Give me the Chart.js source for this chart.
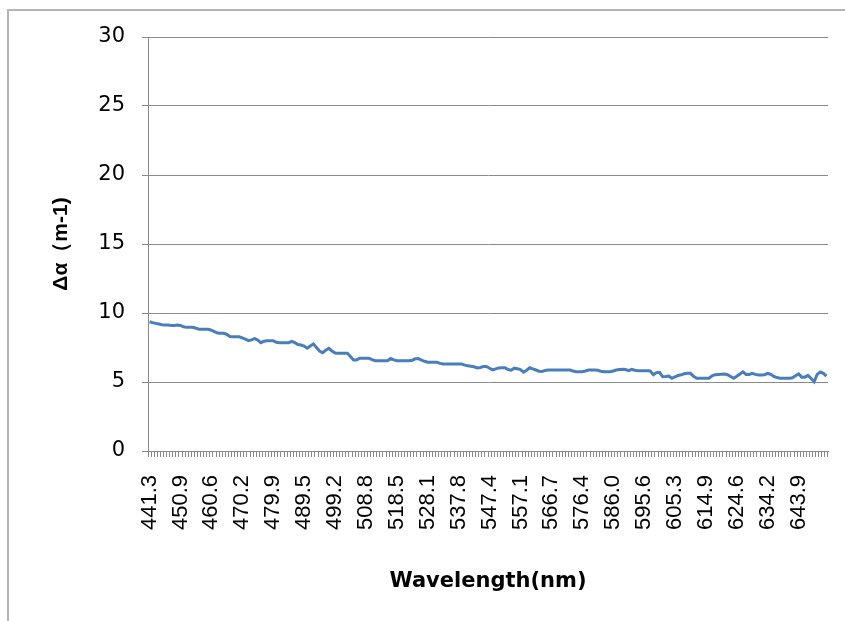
<!DOCTYPE html>
<html>
<head>
<meta charset="utf-8">
<script src="https://cdn.jsdelivr.net/npm/chart.js@4/dist/chart.umd.min.js"></script>
<style>
    html, body { margin: 0; padding: 0; background: #fff; overflow: hidden; }
    #wrap { position: relative; width: 845px; height: 621px; }
    #frame {
        position: absolute; left: 7px; top: 9px; width: 900px; height: 700px;
        border: 2px solid #b4b4b4; box-sizing: border-box;
    }
    canvas { position: absolute; left: 0; top: 0; }
</style>
</head>
<body>
<div id="wrap">
    <div id="frame"></div>
    <canvas id="chart" width="845" height="621"></canvas>
</div>
<script>
// tick labels shown every 10th category (wavelength, nm)
const tickLabels = ['441.3', '450.9', '460.6', '470.2', '479.9', '489.5', '499.2', '508.8', '518.5', '528.1', '537.8',
    '547.4', '557.1', '566.7', '576.4', '586.0', '595.6', '605.3', '614.9', '624.6', '634.2', '643.9'];
const labelEvery = 10;
const yTicks = [0, 5, 10, 15, 20, 25, 30];

// Δα values, one per category
const deltaAlpha = [
    9.37, 9.30, 9.25, 9.20, 9.15, 9.13, 9.13, 9.10, 9.10, 9.13,
    9.10, 9.00, 8.96, 8.96, 8.96, 8.90, 8.82, 8.82, 8.82, 8.82,
    8.75, 8.65, 8.55, 8.53, 8.53, 8.45, 8.30, 8.28, 8.28, 8.28,
    8.20, 8.10, 8.00, 8.05, 8.15, 8.05, 7.85, 7.95, 7.99, 7.99,
    7.99, 7.88, 7.85, 7.85, 7.85, 7.85, 7.95, 7.85, 7.72, 7.68,
    7.60, 7.45, 7.60, 7.75, 7.50, 7.25, 7.12, 7.30, 7.44, 7.25,
    7.10, 7.08, 7.08, 7.08, 7.08, 6.85, 6.60, 6.60, 6.72, 6.72,
    6.72, 6.72, 6.62, 6.54, 6.54, 6.54, 6.54, 6.54, 6.70, 6.60,
    6.54, 6.54, 6.54, 6.54, 6.54, 6.58, 6.68, 6.70, 6.59, 6.50,
    6.43, 6.43, 6.43, 6.43, 6.35, 6.30, 6.30, 6.30, 6.30, 6.30,
    6.30, 6.30, 6.22, 6.17, 6.14, 6.10, 6.02, 6.05, 6.12, 6.12,
    6.00, 5.88, 5.95, 6.02, 6.04, 6.04, 5.90, 5.85, 6.00, 5.96,
    5.90, 5.72, 5.85, 6.03, 5.95, 5.87, 5.78, 5.76, 5.84, 5.87,
    5.87, 5.87, 5.87, 5.87, 5.87, 5.87, 5.87, 5.80, 5.75, 5.75,
    5.75, 5.80, 5.87, 5.87, 5.87, 5.85, 5.78, 5.75, 5.75, 5.75,
    5.80, 5.87, 5.90, 5.92, 5.90, 5.82, 5.92, 5.85, 5.82, 5.82,
    5.82, 5.82, 5.80, 5.52, 5.68, 5.70, 5.38, 5.40, 5.43, 5.27,
    5.38, 5.47, 5.52, 5.60, 5.63, 5.63, 5.42, 5.27, 5.27, 5.27,
    5.27, 5.27, 5.45, 5.53, 5.55, 5.57, 5.58, 5.53, 5.40, 5.27,
    5.42, 5.58, 5.74, 5.55, 5.55, 5.63, 5.55, 5.51, 5.51, 5.53,
    5.62, 5.55, 5.40, 5.32, 5.28, 5.27, 5.27, 5.27, 5.30, 5.45,
    5.58, 5.35, 5.35, 5.48, 5.27, 5.02, 5.55, 5.72, 5.63, 5.43
];

// one category per value, labelled only every 10th
const categories = deltaAlpha.map((v, i) => (i % labelEvery === 0 ? tickLabels[i / labelEvery] : ''));

const gridColor = '#8a8a8a';
const ARIAL = 'Liberation Sans, Arial, sans-serif';
const WIDE = 'DejaVu Sans, sans-serif';

const ctx = document.getElementById('chart').getContext('2d');

new Chart(ctx, {
    type: 'line',
    data: {
        labels: categories,
        datasets: [{
            data: deltaAlpha,
            borderColor: '#4a7ebb',
            borderWidth: 3,
            pointRadius: 0,
            tension: 0,
            fill: false
        }]
    },
    options: {
        responsive: false,
        animation: false,
        layout: {
            padding: { left: 45, right: 17, top: 37, bottom: 23 }
        },
        plugins: {
            legend: { display: false },
            tooltip: { enabled: false }
        },
        scales: {
            x: {
                type: 'category',
                offset: true,
                grid: {
                    offset: true,
                    drawOnChartArea: false,
                    drawTicks: true,
                    tickLength: 6,
                    color: gridColor
                },
                border: { display: true, color: gridColor, width: 1 },
                ticks: {
                    autoSkip: false,
                    maxRotation: 90,
                    minRotation: 90,
                    padding: 18,
                    color: '#000',
                    font: { family: ARIAL, size: 22 }
                },
                title: {
                    display: true,
                    text: 'Wavelength(nm)',
                    color: '#000',
                    padding: { top: 4, bottom: 4 },
                    font: { family: WIDE, size: 21, weight: 'bold' }
                },
                afterFit: (scale) => {
                    scale.height = 147;
                    scale.paddingLeft = 0;
                    scale.paddingRight = 0;
                }
            },
            y: {
                min: 0,
                max: 30,
                afterBuildTicks: (scale) => { scale.ticks = yTicks.map(v => ({ value: v })); },
                grid: {
                    color: gridColor,
                    tickLength: 6,
                    lineWidth: 1
                },
                border: { display: true, color: gridColor, width: 1 },
                ticks: {
                    padding: 17,
                    color: '#000',
                    font: { family: WIDE, size: 21 }
                },
                title: {
                    display: true,
                    text: 'Δα（m-1)',
                    color: '#000',
                    padding: { top: 4, bottom: 4 },
                    font: { family: ARIAL, size: 21, weight: 'bold' }
                },
                afterFit: (scale) => { scale.width = 103; }
            }
        }
    }
});
</script>
</body>
</html>
